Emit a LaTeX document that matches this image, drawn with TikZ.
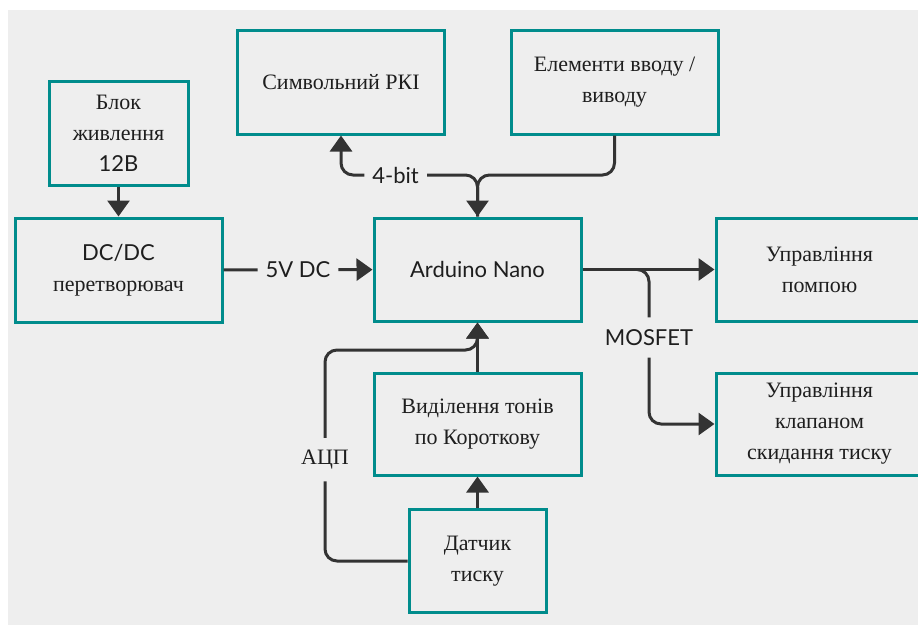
\documentclass[tikz,border=0pt]{standalone}
\usepackage{fontspec}
\setmainfont{Liberation Serif}
\setsansfont{Lato}
\usetikzlibrary{arrows.meta}
\definecolor{boxteal}{RGB}{0,140,140}
\definecolor{linegray}{RGB}{51,51,51}
\definecolor{textgray}{RGB}{30,30,30}
\definecolor{bggray}{RGB}{238,238,238}
\begin{document}
\begin{tikzpicture}[x=1pt,y=-1pt,
  box/.style={draw=boxteal,line width=3pt,minimum width=207pt,minimum height=103pt,
    align=center,text=textgray,font=\fontsize{22}{31}\selectfont},
  conn/.style={draw=linegray,line width=3pt,rounded corners=12pt,
    -{Triangle[length=16pt,width=22pt]}},
  lbl/.style={fill=bggray,text=textgray,inner xsep=8pt,inner ysep=12pt},
  lblsf/.style={lbl,font=\sffamily\fontsize{22}{26}\selectfont},
  lblrm/.style={lbl,font=\fontsize{22}{26}\selectfont}]
\useasboundingbox (0,0) rectangle (918,626);
\clip (0,0) rectangle (918,626);
\fill[bggray] (8,10) rectangle (918,625);

% blocks
\node[box,minimum width=139pt,minimum height=104pt] (blok) at (118.5,133) {Блок\\живлення\\{\sffamily 12В}};
\node[box,minimum height=104pt] (dcdc) at (118.5,270) {{\sffamily DC/DC}\\перетворювач};
\node[box] (lcd) at (341,82.5) {Символьний РКІ};
\node[box] (io) at (614.5,82.5) {Елементи вводу /\\виводу};
\node[box] (nano) at (477.5,269.5) {\sffamily Arduino Nano};
\node[box] (pump) at (819.5,269.5) {Управління\\помпою};
\node[box,minimum height=102pt] (valve) at (819.5,424) {Управління\\клапаном\\скидання тиску};
\node[box,minimum height=102pt] (tones) at (477.5,424) {Виділення тонів\\по Короткову};
\node[box,minimum width=137pt] (sensor) at (477.5,561) {Датчик\\тиску};

\coordinate (bus) at (477.5,175);
\coordinate (split) at (637,269.5);
\coordinate (mos) at (649,424);
\coordinate (adc) at (325,350);

% connectors
\draw[conn] (blok) -- (dcdc);
\draw[conn] (dcdc) -- node[lblsf] {5V DC} (nano);
\draw[conn] (nano.north) -- (bus) -| node[lblsf,pos=0.3] {4-bit} (lcd.south);
\draw[conn] (io.south) |- (bus) -- (nano.north);
\draw[conn] (nano) -- (pump);
\draw[conn] (split) -| node[lblsf,pos=0.72] {MOSFET} (mos) -- (valve.west);
\draw[conn] (tones) -- (nano);
\draw[conn] (sensor) -- (tones);
\draw[conn] (sensor.west) -| node[lblrm,pos=0.74] {АЦП} (adc) -| (nano.south);
\end{tikzpicture}
\end{document}
